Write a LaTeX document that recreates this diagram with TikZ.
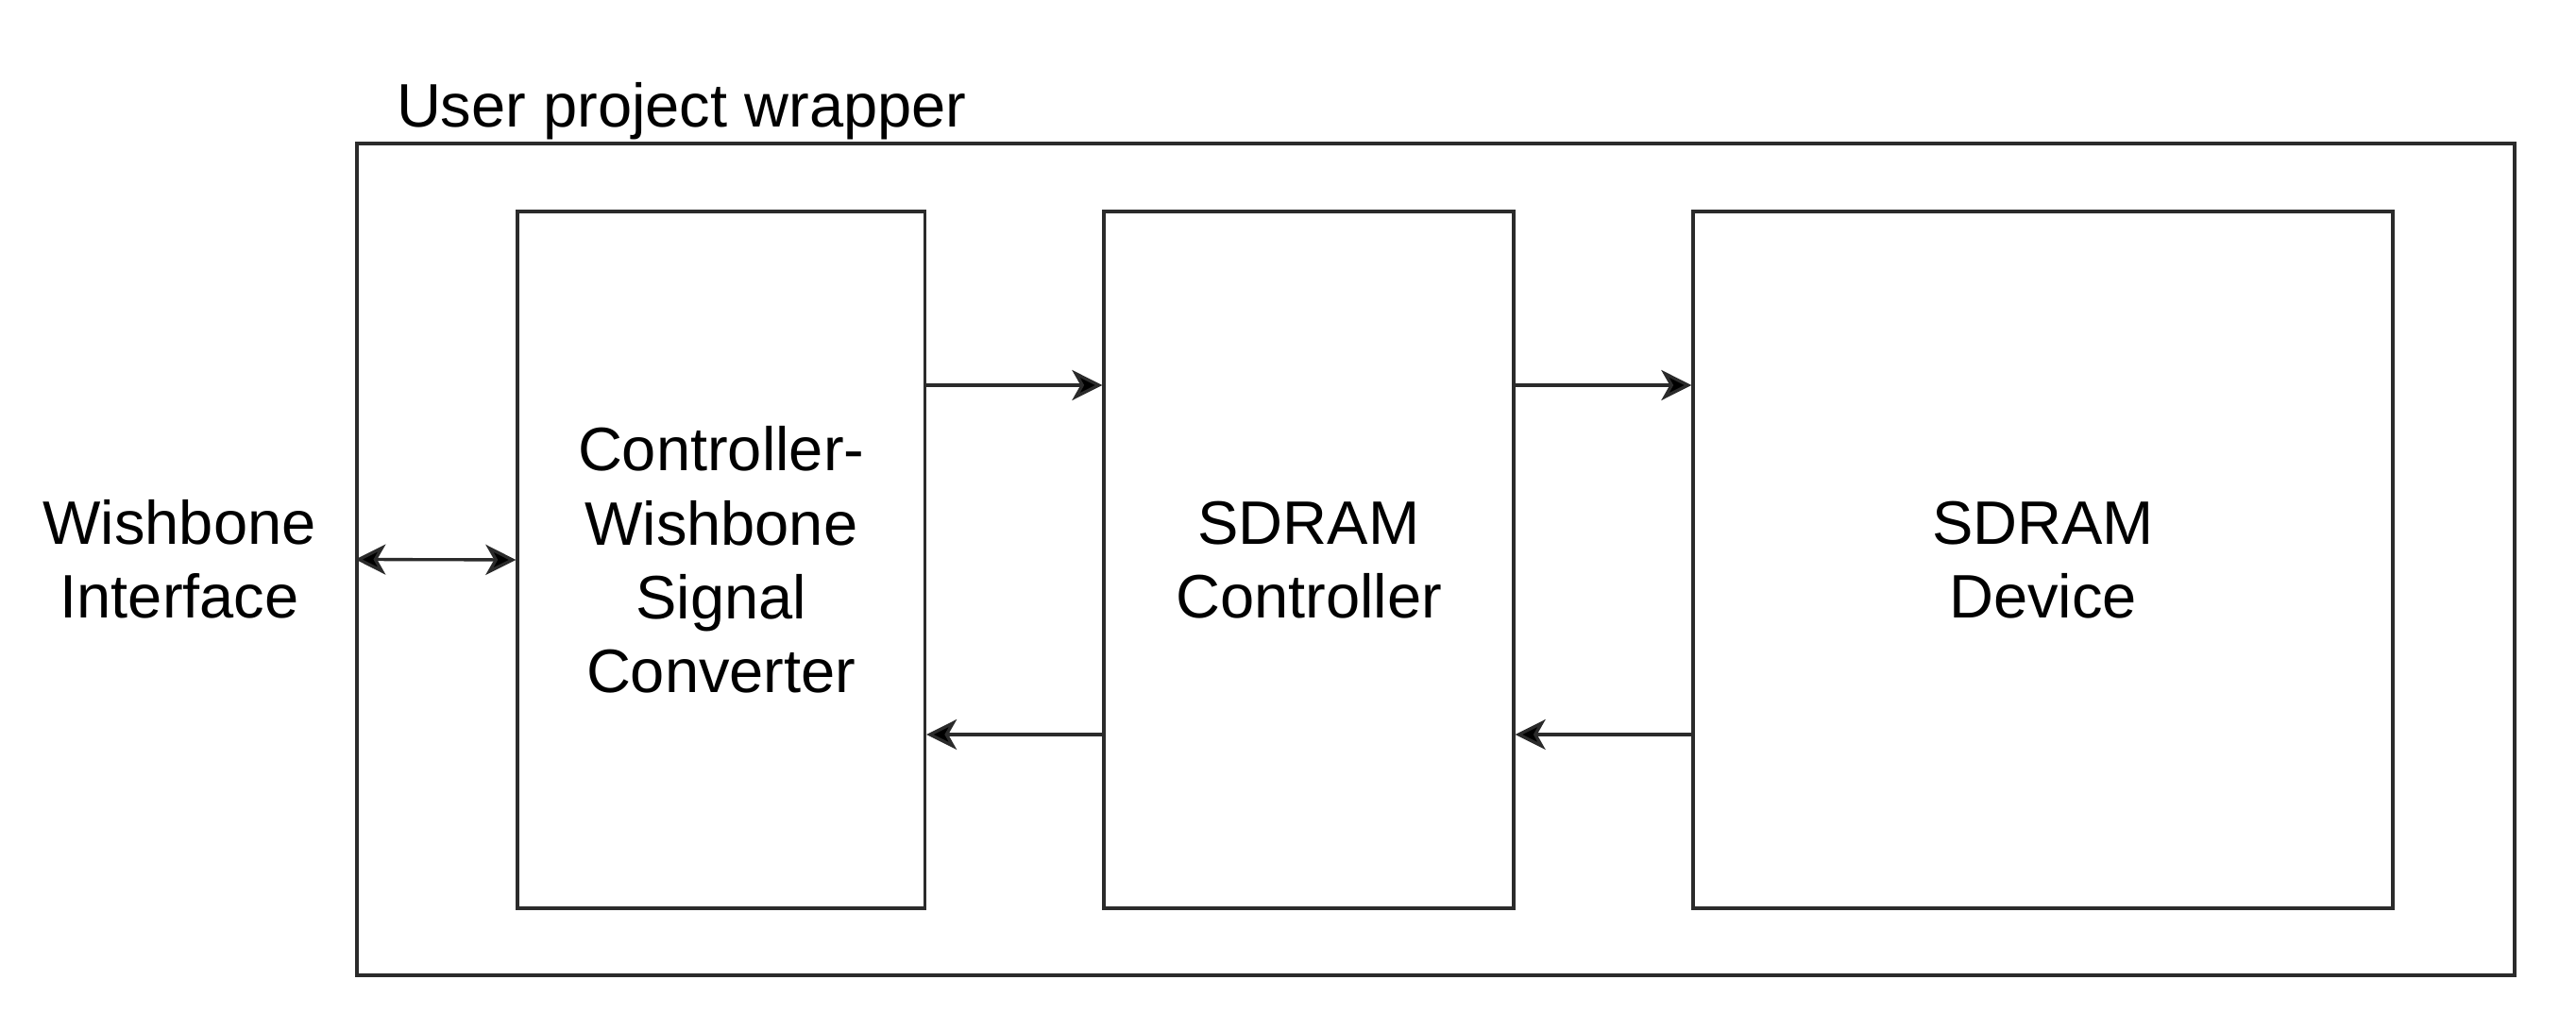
\documentclass[tikz,border=0pt]{standalone}
\usepackage{fontspec}
\setmainfont{Liberation Sans}
\usetikzlibrary{positioning}
\usetikzlibrary{arrows.meta, positioning}
\definecolor{edgegray}{HTML}{2B2B2B}

\begin{document}
\begin{tikzpicture}[
  block/.style={rectangle, draw=edgegray, line width=0.95pt, minimum height=7.38cm, align=center, inner sep=0pt},
  txt/.style={align=center, inner sep=0pt},
  link/.style={draw=edgegray, line width=0.95pt},
  >={Stealth[length=0.32cm, width=0.32cm, inset=0.09cm, fill=black]},
  font=\fontsize{18.5}{22.3}\selectfont
]
\useasboundingbox (0,0) rectangle (27.28,10.74);

\node[block, minimum width=22.85cm, minimum height=8.81cm] (wrapper) at (15.205,4.815) {};
\node[txt, anchor=base west] (title) at ([xshift=0.43cm, yshift=0.16cm]wrapper.north west) {User project wrapper};

\node[block, minimum width=4.315cm] (conv) at (7.6375,4.81) {Controller-\\Wishbone\\Signal\\Converter};
\node[block, minimum width=4.34cm] (ctrl) at (13.86,4.81) {SDRAM\\Controller};
\node[block, minimum width=7.41cm] (dev) at (21.635,4.81) {SDRAM\\Device};

\node[txt, left=0.41cm of wrapper.west] (wbif) {Wishbone\\Interface};

\draw[<->, link] (wrapper.west) -- (conv.west);

\draw[->, link] ([yshift=1.85cm]conv.east) -- ([yshift=1.85cm]ctrl.west);
\draw[->, link] ([yshift=1.85cm]ctrl.east) -- ([yshift=1.85cm]dev.west);
\draw[->, link] ([yshift=-1.85cm]ctrl.west) -- ([yshift=-1.85cm]conv.east);
\draw[->, link] ([yshift=-1.85cm]dev.west) -- ([yshift=-1.85cm]ctrl.east);

\end{tikzpicture}
\end{document}
